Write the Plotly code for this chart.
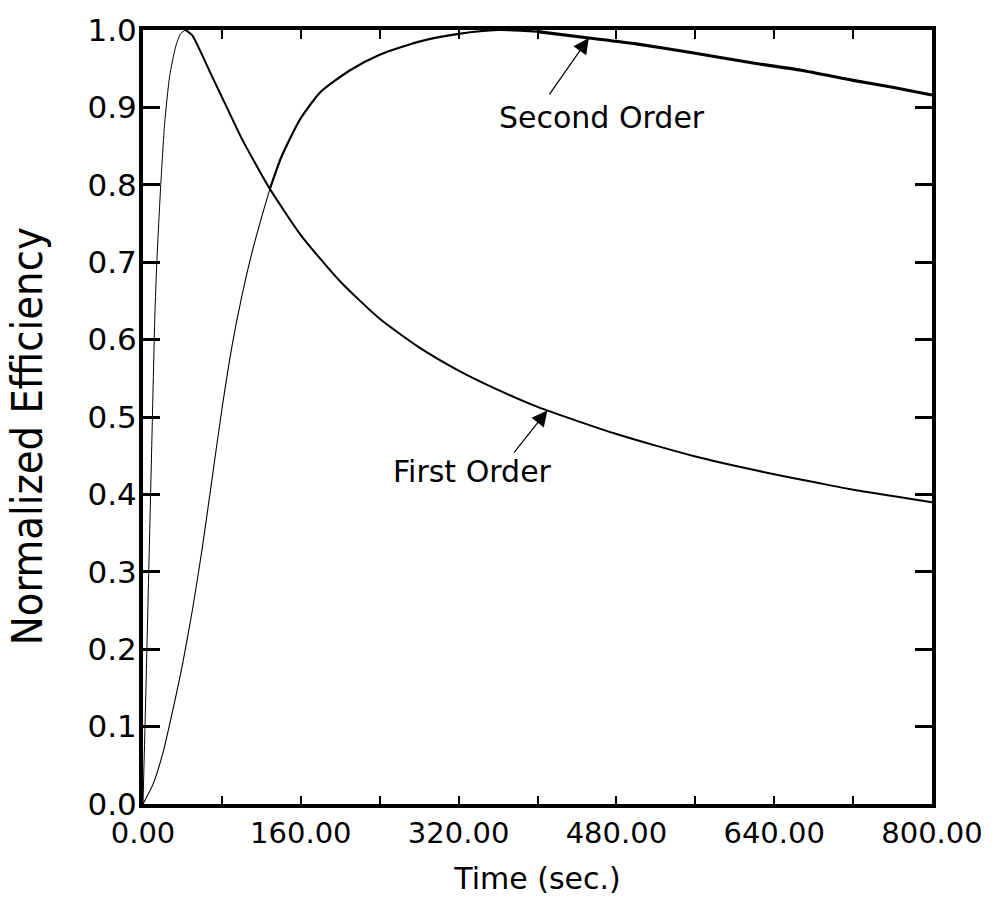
import numpy as np
import plotly.graph_objects as go

# First-order response: time (s) and normalized efficiency
first_t = [0, 3, 6, 9, 12, 14, 18, 22, 27, 33, 38, 43, 50, 58, 70, 85, 100, 115, 128,
           160, 200, 240, 280, 320, 360, 400, 440, 480, 520, 560, 600, 640, 680, 720, 760, 800]
first_v = [0.0, 0.15, 0.31, 0.47, 0.63, 0.70, 0.80, 0.88, 0.94, 0.978, 0.995, 1.0, 0.993, 0.973,
           0.94, 0.90, 0.86, 0.825, 0.796, 0.735, 0.675, 0.627, 0.59, 0.56, 0.535, 0.513, 0.495,
           0.478, 0.463, 0.449, 0.437, 0.426, 0.416, 0.406, 0.398, 0.39]

# Second-order response
second_t = [0, 10, 20, 30, 40, 50, 60, 70, 80, 90, 100, 110, 120, 129, 140, 159, 180, 210,
            240, 280, 320, 360, 400, 450, 500, 560, 620, 667, 720, 760, 800]
second_v = [0.0, 0.025, 0.065, 0.12, 0.18, 0.25, 0.33, 0.42, 0.51, 0.59, 0.655, 0.71, 0.757,
            0.796, 0.835, 0.884, 0.92, 0.948, 0.968, 0.985, 0.995, 1.0, 0.998, 0.99, 0.982,
            0.97, 0.957, 0.948, 0.935, 0.926, 0.916]

x_ticks = [0, 160, 320, 480, 640, 800]
x_minor = [0, 80, 160, 240, 320, 400, 480, 560, 640, 720, 800]
y_ticks = [0.0, 0.1, 0.2, 0.3, 0.4, 0.5, 0.6, 0.7, 0.8, 0.9, 1.0]

FONT = "DejaVu Sans"

fig = go.Figure()


def add_piece(t, v, lo, hi, width, xaxis="x"):
    tt = [a for a in t if lo <= a <= hi]
    vv = [b for a, b in zip(t, v) if lo <= a <= hi]
    fig.add_trace(go.Scatter(x=tt, y=vv, mode="lines", showlegend=False, xaxis=xaxis,
                             line=dict(color="black", width=width, shape="spline",
                                       smoothing=0.6)))


# steep rising branches are drawn finer than the slow tails
add_piece(first_t, first_v, 0, 43, 1.0)
add_piece(first_t, first_v, 43, 800, 2.0, xaxis="x2")
add_piece(second_t, second_v, 0, 129, 1.1)
add_piece(second_t, second_v, 129, 400, 2.2)
add_piece(second_t, second_v, 400, 800, 3.2)

fig.update_layout(
    xaxis=dict(range=[0, 800], tickvals=x_ticks, ticktext=[f"{v:.2f}" for v in x_ticks],
               ticks="inside", ticklen=8, tickwidth=1.5, tickcolor="black",
               showline=True, linewidth=4, linecolor="black", mirror="allticks",
               showgrid=False, zeroline=False,
               tickfont=dict(family=FONT, size=29, color="black"),
               minor=dict(tickvals=x_minor, ticks="inside", ticklen=8, tickwidth=1.5,
                          tickcolor="black", showgrid=False),
               title=dict(text="Time (sec.)", font=dict(family=FONT, size=30, color="black"),
                          standoff=20)),
    # same time scale along the top edge, ticks only
    xaxis2=dict(overlaying="x", side="top", range=[0, 800], tickvals=x_minor,
                ticks="inside", ticklen=9, tickwidth=2, tickcolor="black",
                showticklabels=False, showline=False, showgrid=False, zeroline=False),
    yaxis=dict(range=[0, 1], tickvals=y_ticks, ticktext=[f"{v:.1f}" for v in y_ticks],
               ticks="inside", ticklen=17, tickwidth=2.5, tickcolor="black",
               ticklabelstandoff=-4,
               showline=True, linewidth=4, linecolor="black", mirror="ticks",
               showgrid=False, zeroline=False,
               tickfont=dict(family=FONT, size=31, color="black")),
)

# curve labels with pointer arrows
f_tip = 410
s_tip = 452
fig.add_annotation(x=333.6, y=0.429, text="First Order", showarrow=False,
                   font=dict(family=FONT, size=30, color="black"))
fig.add_annotation(x=f_tip, y=float(np.interp(f_tip, first_t, first_v)), ax=375, ay=0.452,
                   axref="x", ayref="y", text="", showarrow=True, arrowhead=2,
                   arrowsize=2.6, arrowwidth=1.2, arrowcolor="black")
fig.add_annotation(x=465.4, y=0.887, text="Second Order", showarrow=False,
                   font=dict(family=FONT, size=30, color="black"))
fig.add_annotation(x=s_tip, y=float(np.interp(s_tip, second_t, second_v)), ax=411, ay=0.915,
                   axref="x", ayref="y", text="", showarrow=True, arrowhead=2,
                   arrowsize=2.6, arrowwidth=1.2, arrowcolor="black")

# vertical axis title in a condensed face
fig.add_annotation(xref="paper", yref="paper", x=-0.146, y=0.475, xanchor="center",
                   yanchor="middle", textangle=-90, text="Normalized Efficiency",
                   showarrow=False,
                   font=dict(family="DejaVu Sans Condensed, DejaVu Sans", size=43,
                             color="black"))

fig.update_layout(width=1008, height=903, margin=dict(l=143, r=76, t=22, b=96),
                  plot_bgcolor="white", paper_bgcolor="white")

fig.write_html("out.html")
